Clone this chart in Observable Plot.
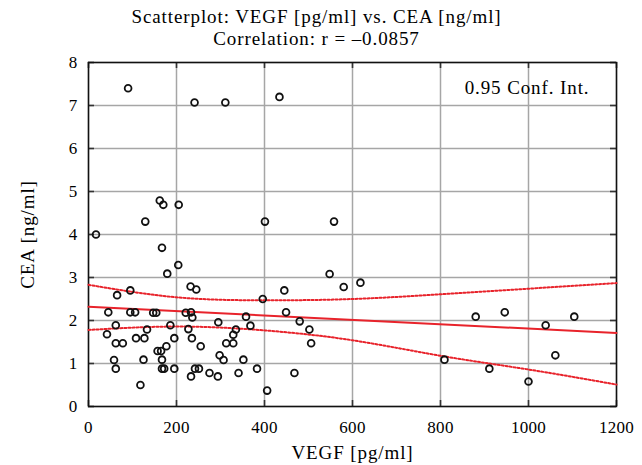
<!DOCTYPE html>
<html>
<head>
<meta charset="utf-8">
<script src="https://cdn.jsdelivr.net/npm/d3@7"></script>
<script src="https://cdn.jsdelivr.net/npm/@observablehq/plot@0.6"></script>
<style>
  html, body { margin: 0; padding: 0; background: white; }
</style>
</head>
<body>
<div id="chart"></div>
<script>
// VEGF [pg/ml] values of the points
const vegf = [
  90, 241, 311, 434, 162, 170, 205, 129, 401, 558,
  17, 167, 204, 179, 548, 618, 580, 232, 245, 95,
  445, 65, 396, 45, 95, 106, 147, 154, 221, 233,
  449, 236, 358, 880, 946, 1104, 295, 480, 62, 368,
  186, 1039, 133, 227, 335, 502, 42, 329, 108, 127,
  195, 235, 62, 78, 313, 329, 506, 177, 255, 157,
  165, 298, 1061, 58, 125, 167, 307, 352, 809, 62,
  167, 172, 195, 242, 251, 383, 911, 275, 341, 468,
  233, 294, 118, 1000, 406
];
// CEA [ng/ml] values of the points
const cea = [
  7.40, 7.07, 7.07, 7.20, 4.79, 4.69, 4.69, 4.30, 4.30, 4.30,
  4.00, 3.69, 3.29, 3.09, 3.08, 2.88, 2.78, 2.79, 2.72, 2.70,
  2.70, 2.59, 2.50, 2.19, 2.19, 2.19, 2.18, 2.18, 2.18, 2.19,
  2.19, 2.07, 2.09, 2.09, 2.19, 2.09, 1.96, 1.98, 1.89, 1.88,
  1.89, 1.89, 1.79, 1.80, 1.79, 1.79, 1.68, 1.67, 1.59, 1.59,
  1.59, 1.59, 1.47, 1.47, 1.47, 1.47, 1.47, 1.40, 1.40, 1.29,
  1.29, 1.19, 1.19, 1.08, 1.09, 1.09, 1.08, 1.09, 1.09, 0.88,
  0.88, 0.88, 0.88, 0.88, 0.88, 0.88, 0.88, 0.78, 0.78, 0.78,
  0.70, 0.70, 0.50, 0.58, 0.37
];

// regression line (read at both ends)
const fitX = [0, 1200];
const fitY = [2.32, 1.71];

// 0.95 confidence band
const ciX = [0, 200, 400, 600, 800, 1000, 1200];
const ciUpper = [2.83, 2.54, 2.47, 2.50, 2.61, 2.74, 2.87];
const ciLower = [1.78, 1.86, 1.77, 1.54, 1.18, 0.86, 0.51];

const xTicks = [0, 200, 400, 600, 800, 1000, 1200];
const yTicks = [0, 1, 2, 3, 4, 5, 6, 7, 8];

const titleLines = ["Scatterplot: VEGF [pg/ml] vs. CEA [ng/ml]", "Correlation: r = \u20130.0857"];
const xLabel = "VEGF [pg/ml]";
const yLabel = "CEA [ng/ml]";
const legendText = "0.95 Conf. Int.";

const points = vegf.map((v, i) => ({vegf: v, cea: cea[i]}));
const fit = fitX.map((v, i) => ({x: v, y: fitY[i]}));
const ci = ciX.map((v, i) => ({x: v, upper: ciUpper[i], lower: ciLower[i]}));

const RED = "#e8232b";
const FONT = "'Liberation Serif', 'DejaVu Serif', serif";
const TXT = 19;
const TICK = 17;

const W = 642, H = 465;
const mL = 88, mR = 26, mT = 62, mB = 59;
const fw = W - mL - mR, fh = H - mT - mB;
const tickLen = 6;

const txt = (s, opts) => Plot.text([s], {text: d => d, lineAnchor: "middle", textAnchor: "middle", fontSize: TXT, fontFamily: FONT, fill: "black", ...opts});

const chart = Plot.plot({
  width: W,
  height: H,
  marginLeft: mL,
  marginRight: mR,
  marginTop: mT,
  marginBottom: mB,
  style: {fontFamily: FONT, fontSize: TICK + "px", background: "white", color: "black"},
  x: {domain: [0, 1200]},
  y: {domain: [0, 8]},
  marks: [
    Plot.ruleX(xTicks, {x: d => d, stroke: "#a6a6a6", strokeWidth: 1.5}),
    Plot.ruleY(yTicks, {y: d => d, stroke: "#a6a6a6", strokeWidth: 1.5}),
    // inward ticks on all four sides
    Plot.tickX(xTicks, {x: d => d, insetTop: fh - tickLen, stroke: "#333", strokeWidth: 1.6}),
    Plot.tickX(xTicks, {x: d => d, insetBottom: fh - tickLen, stroke: "#333", strokeWidth: 1.6}),
    Plot.tickY(yTicks, {y: d => d, insetRight: fw - tickLen, stroke: "#333", strokeWidth: 1.6}),
    Plot.tickY(yTicks, {y: d => d, insetLeft: fw - tickLen, stroke: "#333", strokeWidth: 1.6}),
    Plot.frame({stroke: "#111", strokeWidth: 1.5}),
    Plot.axisX(xTicks, {tickSize: 0, tickPadding: 14, label: null, tickFormat: d => String(d), fontSize: TICK, fontFamily: FONT}),
    Plot.axisY(yTicks, {tickSize: 0, tickPadding: 11, label: null, tickFormat: d => String(d), fontSize: TICK, fontFamily: FONT}),
    Plot.line(ci, {x: "x", y: "upper", curve: "natural", stroke: RED, strokeWidth: 2, strokeDasharray: "2,2"}),
    Plot.line(ci, {x: "x", y: "lower", curve: "natural", stroke: RED, strokeWidth: 2, strokeDasharray: "2,2"}),
    Plot.line(fit, {x: "x", y: "y", stroke: RED, strokeWidth: 2}),
    Plot.dot(points, {x: "vegf", y: "cea", r: 3.4, stroke: "#111", strokeWidth: 1.8, fill: "none"}),
    txt(legendText, {frameAnchor: "top-right", dx: -27, dy: 25, textAnchor: "end"}),
    txt(titleLines[0], {frameAnchor: "top", dx: -36, dy: -46}),
    txt(titleLines[1], {frameAnchor: "top", dx: -36, dy: -24}),
    txt(xLabel, {frameAnchor: "bottom", dy: 46}),
    txt(yLabel, {frameAnchor: "left", dx: -61, rotate: -90})
  ]
});
// wider letter spacing to approximate the reference's Garamond-like face
d3.select(chart).selectAll('g[aria-label="text"] text').attr("letter-spacing", "0.9px");
d3.select(chart).selectAll('g[aria-label="x-axis tick label"] text, g[aria-label="y-axis tick label"] text').attr("letter-spacing", "0.3px");
document.getElementById("chart").appendChild(chart);
</script>
</body>
</html>
